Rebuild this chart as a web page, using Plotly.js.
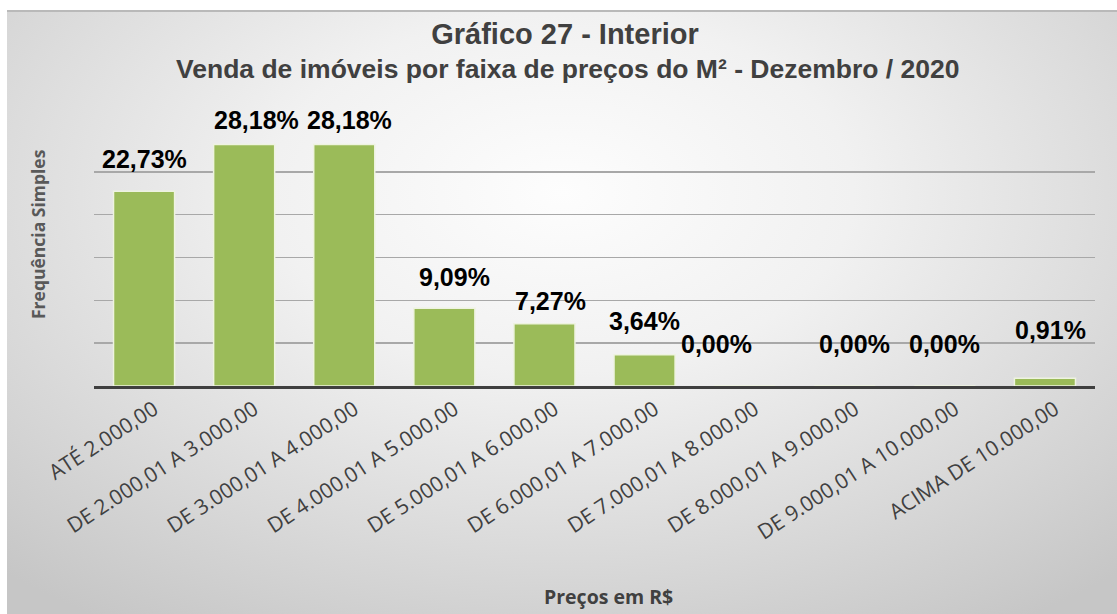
<!DOCTYPE html>
<html>
<head>
<meta charset="utf-8">
<script src="https://cdn.plot.ly/plotly-3.0.1.min.js"></script>
<style>
  html, body { margin: 0; padding: 0; background: #ffffff; }
  #wrap { position: relative; width: 1117px; height: 614px; overflow: hidden; }
  #card {
    position: absolute; left: 7px; top: 10px; width: 1110px; height: 604px;
    background: radial-gradient(ellipse 75% 85% at 50% 30%, #fdfdfd 0%, #f1f1f1 35%, #dadada 70%, #c6c6c6 100%);
    border-top: 2px solid #b9b9b9;
    box-sizing: border-box;
  }
  #chart { position: absolute; left: 0; top: 0; width: 1117px; height: 614px; }
</style>
</head>
<body>
<div id="wrap">
  <div id="card"></div>
  <div id="chart"></div>
</div>
<script>
// ---- data ----
const categories = [
  "ATÉ 2.000,00",
  "DE 2.000,01 A 3.000,00",
  "DE 3.000,01 A 4.000,00",
  "DE 4.000,01 A 5.000,00",
  "DE 5.000,01 A 6.000,00",
  "DE 6.000,01 A 7.000,00",
  "DE 7.000,01 A 8.000,00",
  "DE 8.000,01 A 9.000,00",
  "DE 9.000,01 A 10.000,00",
  "ACIMA DE 10.000,00"
];
const percentages = [22.73, 28.18, 28.18, 9.09, 7.27, 3.64, 0.00, 0.00, 0.00, 0.91];
const labelTexts = ["22,73%", "28,18%", "28,18%", "9,09%", "7,27%", "3,64%", "0,00%", "0,00%", "0,00%", "0,91%"];
const titleText = "Gráfico 27 - Interior";
const subtitleText = "Venda de imóveis por faixa de preços do M² - Dezembro / 2020";
const yTitle = "Frequência Simples";
const xTitle = "Preços em R$";

// label placement offsets (pixels), as placed in the original chart
const labelLift = [32, 25, 25, 31, 23, 34, 42, 42, 42, 48];
const labelNudge = [0, 12, 5, 10, 6, 0, -28, 10, 0, 6];

const trace = {
  type: "bar",
  x: categories,
  y: percentages,
  marker: { color: "#9BBB59", line: { color: "#EEF3E0", width: 1.5 } },
  hoverinfo: "skip",
  cliponaxis: false
};

const annotations = categories.map((c, i) => ({
  x: c, y: percentages[i], xref: "x", yref: "y",
  text: labelTexts[i], showarrow: false,
  yanchor: "middle", yshift: labelLift[i], xshift: labelNudge[i],
  font: { family: "Liberation Sans, Arial, sans-serif", size: 25, color: "#000000", weight: 700 }
}));

annotations.push({
  xref: "paper", yref: "paper", x: (567 - 94) / 1001, y: (386 - 69) / 257,
  text: subtitleText, showarrow: false, yanchor: "middle", xanchor: "center",
  font: { family: "Liberation Sans, Arial, sans-serif", size: 26.5, color: "#404040", weight: 700 }
});
annotations.push({
  xref: "paper", yref: "paper", x: (38 - 94) / 1001, y: (386 - 234) / 257,
  text: yTitle, showarrow: false, textangle: -90, xanchor: "center", yanchor: "middle",
  font: { family: "Open Sans, sans-serif", size: 17.5, color: "#595959", weight: 700 }
});
annotations.push({
  xref: "paper", yref: "paper", x: (608 - 94) / 1001, y: (386 - 596) / 257,
  text: xTitle, showarrow: false, xanchor: "center", yanchor: "middle",
  font: { family: "Open Sans, sans-serif", size: 19.5, color: "#404040", weight: 700 }
});

const layout = {
  width: 1117, height: 614,
  margin: { l: 94, r: 22, t: 129, b: 228 },
  paper_bgcolor: "rgba(0,0,0,0)",
  plot_bgcolor: "rgba(0,0,0,0)",
  showlegend: false,
  bargap: 0.39,
  title: {
    text: titleText, x: 565 / 1117, xref: "container", xanchor: "center",
    y: 1 - 34 / 614, yref: "container", yanchor: "middle",
    font: { family: "Liberation Sans, Arial, sans-serif", size: 29, color: "#404040", weight: 700 }
  },
  xaxis: {
    type: "category",
    tickangle: -33,
    ticklabelshift: 10,
    tickfont: { family: "Open Sans, sans-serif", size: 21, color: "#404040" },
    showline: true, linecolor: "#3f3f3f", linewidth: 3,
    ticks: "", showgrid: false, zeroline: false,
    fixedrange: true
  },
  yaxis: {
    range: [0, 30], dtick: 5, tick0: 0,
    showticklabels: false, ticks: "",
    showgrid: true, gridcolor: "#a8a8a8", gridwidth: 1.5,
    zeroline: false, showline: false,
    fixedrange: true
  },
  annotations: annotations
};

Plotly.newPlot("chart", [trace], layout, { displayModeBar: false, staticPlot: true });
</script>
</body>
</html>
